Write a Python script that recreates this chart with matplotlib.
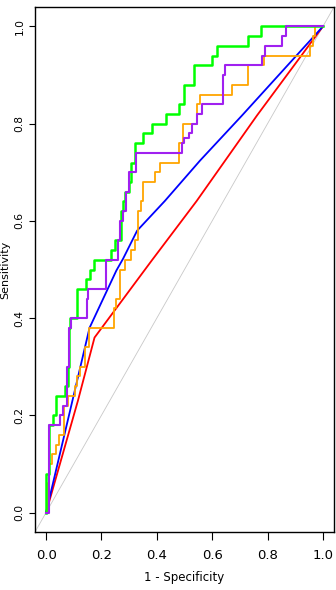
import numpy as np
import matplotlib
matplotlib.use('Agg')
import matplotlib.pyplot as plt

# step curves: at each fpr value the sensitivity jumps up to the given tpr
green_fpr = [0, 0.012, 0.026, 0.036, 0.068, 0.079, 0.083, 0.088, 0.111, 0.143,
             0.160, 0.173, 0.233, 0.248, 0.272, 0.278, 0.284, 0.300, 0.305, 0.320,
             0.351, 0.381, 0.432, 0.481, 0.499, 0.536, 0.601, 0.619, 0.728, 0.776]
green_tpr = [0.08, 0.18, 0.20, 0.24, 0.26, 0.30, 0.38, 0.40, 0.46, 0.48,
             0.50, 0.52, 0.54, 0.56, 0.62, 0.64, 0.66, 0.68, 0.72, 0.76,
             0.78, 0.80, 0.82, 0.84, 0.88, 0.92, 0.94, 0.96, 0.98, 1.00]

purple_fpr = [0.012, 0.051, 0.062, 0.077, 0.082, 0.090, 0.147, 0.153, 0.215, 0.260,
              0.268, 0.278, 0.290, 0.300, 0.326, 0.490, 0.500, 0.515, 0.526, 0.544,
              0.562, 0.638, 0.647, 0.780, 0.790, 0.853, 0.865]
purple_tpr = [0.18, 0.20, 0.22, 0.30, 0.38, 0.40, 0.44, 0.46, 0.52, 0.56,
              0.60, 0.62, 0.66, 0.70, 0.74, 0.76, 0.77, 0.78, 0.80, 0.82,
              0.84, 0.90, 0.92, 0.94, 0.96, 0.98, 1.00]

orange_fpr = [0.006, 0.012, 0.020, 0.036, 0.046, 0.063, 0.079, 0.103, 0.111, 0.121,
              0.139, 0.155, 0.245, 0.254, 0.266, 0.284, 0.308, 0.320, 0.332, 0.343,
              0.351, 0.393, 0.411, 0.481, 0.493, 0.544, 0.556, 0.671, 0.728, 0.786,
              0.953, 0.963, 0.970]
orange_tpr = [0.06, 0.10, 0.12, 0.14, 0.16, 0.22, 0.24, 0.26, 0.28, 0.30,
              0.34, 0.38, 0.42, 0.44, 0.50, 0.52, 0.54, 0.56, 0.62, 0.64,
              0.68, 0.70, 0.72, 0.76, 0.80, 0.84, 0.86, 0.88, 0.92, 0.94,
              0.96, 0.98, 1.00]

# smoother curves given as points
blue_fpr = [0, 0.091, 0.157, 0.254, 0.278, 0.329, 0.429, 0.556, 0.708, 1.0]
blue_tpr = [0, 0.220, 0.380, 0.498, 0.522, 0.580, 0.641, 0.724, 0.817, 1.0]

red_fpr = [0, 0.060, 0.115, 0.175, 0.381, 0.544, 0.762, 1.0]
red_tpr = [0, 0.120, 0.230, 0.360, 0.518, 0.641, 0.817, 1.0]

x_ticks = [0.0, 0.2, 0.4, 0.6, 0.8, 1.0]
y_ticks = [0.0, 0.2, 0.4, 0.6, 0.8, 1.0]


def steps(fpr, tpr):
    xs, ys = [0], [0]
    prev = 0
    for x, y in zip(fpr, tpr):
        xs += [x, x]
        ys += [prev, y]
        prev = y
    xs.append(1.0)
    ys.append(prev)
    if prev < 1:
        xs.append(1.0)
        ys.append(1.0)
    return xs, ys


fig = plt.figure(figsize=(3.36, 5.90), dpi=100)
ax = fig.add_axes([35/336, 1 - 532/590, 299/336, 525/590])

ax.plot([-0.04, 1.04], [-0.04, 1.04], color='#c8c8c8', lw=0.6)
ax.plot(red_fpr, red_tpr, color='#ff0000', lw=1.3)
ax.plot(blue_fpr, blue_tpr, color='#0000ff', lw=1.3)
ax.plot(*steps(orange_fpr, orange_tpr), color='#ffa500', lw=1.3)
ax.plot(*steps(green_fpr, green_tpr), color='#00ff00', lw=1.8)
ax.plot(*steps(purple_fpr, purple_tpr), color='#a020f0', lw=1.5)

ax.set_xlim(-0.04, 1.04)
ax.set_ylim(-0.04, 1.04)
ax.set_xticks(x_ticks)
ax.set_yticks(y_ticks)
ax.set_xticklabels([f'{t:.1f}' for t in x_ticks], family=['Liberation Sans Narrow', 'DejaVu Sans'], fontsize=9.5)
ax.set_yticklabels([f'{t:.1f}' for t in y_ticks], fontsize=7.7, rotation=90, va='center')
ax.tick_params(axis='x', length=5.5, width=0.8, pad=7)
ax.tick_params(axis='y', length=4.5, width=0.8, pad=3)
for s in ax.spines.values():
    s.set_linewidth(1.0)

ax.set_xlabel('1 - Specificity', family=['Liberation Sans Narrow', 'DejaVu Sans'], fontsize=8.5, labelpad=6)
ax.set_ylabel('Sensitivity', fontsize=8)
ax.yaxis.set_label_coords(-0.082, 0.5)

fig.savefig('out.png', dpi=100)
